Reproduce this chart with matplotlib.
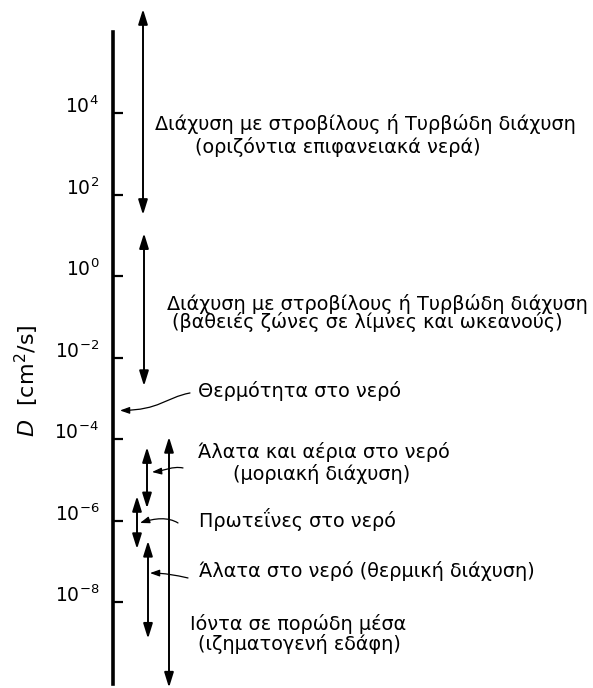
import numpy as np
import matplotlib
matplotlib.use("Agg")
import matplotlib.pyplot as plt
from matplotlib.patches import FancyArrowPatch
from matplotlib.path import Path

plt.rcParams['font.family'] = ['DejaVu Sans']
plt.rcParams['mathtext.fontset'] = 'dejavusans'

# ranges of D as powers of ten (upper, lower)
ranges = [
    (6.55, 1.5),     # eddy diffusion, surface waters
    (1.05, -2.7),    # eddy diffusion, deep lakes and oceans
    (-4.2, -5.7),    # salts and gases, molecular
    (-5.4, -6.7),    # proteins
    (-6.5, -8.9),    # salts, thermal diffusion
    (-3.95, -10.1),  # ions in porous media
]
heat_exp = -3.3

tick_exps = [4, 2, 0, -2, -4, -6, -8]
tick_labels = ['10$^{%d}$' % e for e in tick_exps]

labels = [
    'Διάχυση με στροβίλους ή Τυρβώδη διάχυση',
    '(οριζόντια επιφανειακά νερά)',
    'Διάχυση με στροβίλους ή Τυρβώδη διάχυση',
    '(βαθειές ζώνες σε λίμνες και ωκεανούς)',
    'Θερμότητα στο νερό',
    'Άλατα και αέρια στο νερό',
    '(μοριακή διάχυση)',
    'Πρωτεΐνες στο νερό',
    'Άλατα στο νερό (θερμική διάχυση)',
    'Ιόντα σε πορώδη μέσα',
    '(ιζηματογενή εδάφη)',
]

# layout
arrow_x = [143, 144, 147, 137, 148, 169]
label_pos = [(155, 3.58), (195, 3.02), (167, -0.83), (172, -1.28),
             (198, -2.97), (198, -4.47), (233, -5.01), (199, -6.16),
             (199, -7.39), (190, -8.69), (198, -9.18)]
leaders = [
    [(190, -2.87), (165, -2.99), (160, -3.29), (120, heat_exp)],
    [(183, -4.71), (172, -4.66), (165, -4.78), (152, -4.81)],
    [(178, -6.06), (168, -5.91), (155, -5.94), (140, -6.06)],
    [(188, -7.41), (175, -7.34), (165, -7.29), (150, -7.29)],
]

fig = plt.figure(figsize=(5.93, 6.88), dpi=100)
ax = fig.add_axes([0, 0, 1, 1])
ax.set_xlim(0, 593)
ax.set_yscale('log')
ax.set_ylim(10**-10.11, 10**6.773)
ax.patch.set_alpha(0)

for s in ['top', 'right', 'bottom']:
    ax.spines[s].set_visible(False)
ax.spines['left'].set_position(('data', 113))
ax.spines['left'].set_bounds(1e-10, 1e6)
ax.spines['left'].set_linewidth(2.6)
ax.set_xticks([])
ax.set_yticks([10.0**e for e in tick_exps])
ax.set_yticklabels(tick_labels)
ax.yaxis.set_minor_locator(matplotlib.ticker.NullLocator())
ax.tick_params(axis='y', direction='in', length=7, width=1.6, pad=10, labelsize=13.5)
for lab in ax.get_yticklabels():
    lab.set_verticalalignment('baseline')

for (hi, lo), x in zip(ranges, arrow_x):
    ax.annotate('', xy=(x, 10**lo), xytext=(x, 10**hi),
                arrowprops=dict(arrowstyle='<|-|>,head_length=0.9,head_width=0.28',
                                lw=1.4, color='black', shrinkA=0, shrinkB=0,
                                mutation_scale=10),
                annotation_clip=False)

for pts in leaders:
    verts = [(x, 10**e) for x, e in pts]
    path = Path(verts, [Path.MOVETO, Path.CURVE4, Path.CURVE4, Path.CURVE4])
    arr = FancyArrowPatch(path=path, arrowstyle='-|>,head_length=0.7,head_width=0.25',
                          mutation_scale=8, lw=0.9, color='black',
                          transform=ax.transData)
    ax.add_patch(arr)

for txt, (x, e) in zip(labels, label_pos):
    ax.text(x, 10**e, txt, fontsize=13.9, ha='left', va='baseline')

fig.text(27 / 593, 1 - 381 / 688, '$D$  [cm$^2$/s]', rotation=90,
         ha='center', va='center', fontsize=16)

fig.savefig('out.png', dpi=100)
